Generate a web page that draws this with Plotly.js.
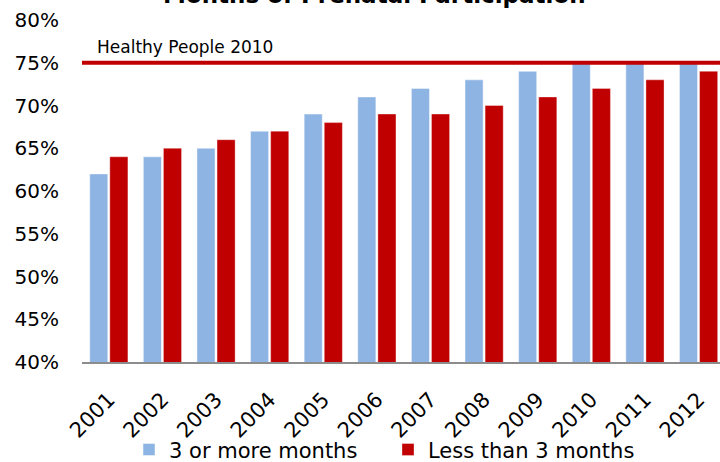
<!DOCTYPE html>
<html>
<head>
<meta charset="utf-8">
<script src="https://cdn.plot.ly/plotly-3.0.1.min.js"></script>
<style>html,body{margin:0;padding:0;background:#fff;}#chart{width:720px;height:462px;}</style>
</head>
<body>
<div id="chart"></div>
<script>
const years = ['2001','2002','2003','2004','2005','2006','2007','2008','2009','2010','2011','2012'];
const threeOrMore = [62, 64, 65, 67, 69, 71, 72, 73, 74, 75, 75, 75];
const lessThanThree = [64, 65, 66, 67, 68, 69, 69, 70, 71, 72, 73, 74];
const seriesNames = ['3 or more months', 'Less than 3 months'];
const target = 75;
const targetLabel = 'Healthy People 2010';
const chartTitle = 'Months of Prenatal Participation';
const yTicks = [40, 45, 50, 55, 60, 65, 70, 75, 80];

const FONT = 'DejaVu Sans, sans-serif';

const traces = [
  {
    type: 'bar', name: seriesNames[0], x: years, y: threeOrMore,
    marker: {color: '#8EB4E3', line: {color: 'rgba(255,255,255,0.45)', width: 1}},
    hoverinfo: 'skip'
  },
  {
    type: 'bar', name: seriesNames[1], x: years, y: lessThanThree,
    marker: {color: '#C00000', line: {color: 'rgba(255,255,255,0.35)', width: 1}},
    hoverinfo: 'skip'
  }
];

const layout = {
  width: 720, height: 462,
  margin: {l: 82, r: 0, t: 20, b: 100, pad: 0, autoexpand: false},
  paper_bgcolor: '#ffffff', plot_bgcolor: '#ffffff',
  font: {family: FONT, color: '#000000'},
  barmode: 'group', bargap: 0.25, bargroupgap: 0.1,
  showlegend: true,
  legend: {
    orientation: 'h', x: (137 - 82 - 8) / 638, xanchor: 'left',
    y: -0.197, yanchor: 'top',
    font: {family: FONT, size: 21, color: '#000000'},
    entrywidth: 214, entrywidthmode: 'pixels',
    bgcolor: 'rgba(0,0,0,0)', traceorder: 'normal'
  },
  xaxis: {
    type: 'category', range: [-0.5, 11.4], fixedrange: true,
    showgrid: false, zeroline: false,
    showline: true, linecolor: '#8C8C8C', linewidth: 2,
    ticks: '', tickangle: -45, ticklabelstandoff: 15,
    tickfont: {family: FONT, size: 21, color: '#000000'}
  },
  yaxis: {
    range: [40, 80], fixedrange: true,
    showgrid: false, zeroline: false, showline: false,
    tickvals: yTicks, ticktext: yTicks.map(v => v + '%'),
    ticks: '', ticklabelstandoff: 22,
    tickfont: {family: FONT, size: 20, color: '#000000'}
  },
  shapes: [{
    type: 'line', xref: 'paper', x0: 0, x1: 1, yref: 'y', y0: target, y1: target,
    line: {color: '#C00000', width: 4}, layer: 'above'
  }],
  annotations: [
    {
      text: targetLabel, xref: 'paper', x: (95 - 82) / 638, xanchor: 'left',
      yref: 'y', y: target, yanchor: 'bottom', yshift: 4, showarrow: false,
      font: {family: FONT, size: 17, color: '#000000'}
    },
    {
      text: '<b>' + chartTitle + '</b>', xref: 'paper', x: (374 - 82) / 638, xanchor: 'center',
      yref: 'paper', y: 1.03, yanchor: 'bottom', showarrow: false,
      font: {family: FONT, size: 23, color: '#000000'}
    }
  ]
};

Plotly.newPlot('chart', traces, layout, {staticPlot: true, displayModeBar: false});
</script>
</body>
</html>
